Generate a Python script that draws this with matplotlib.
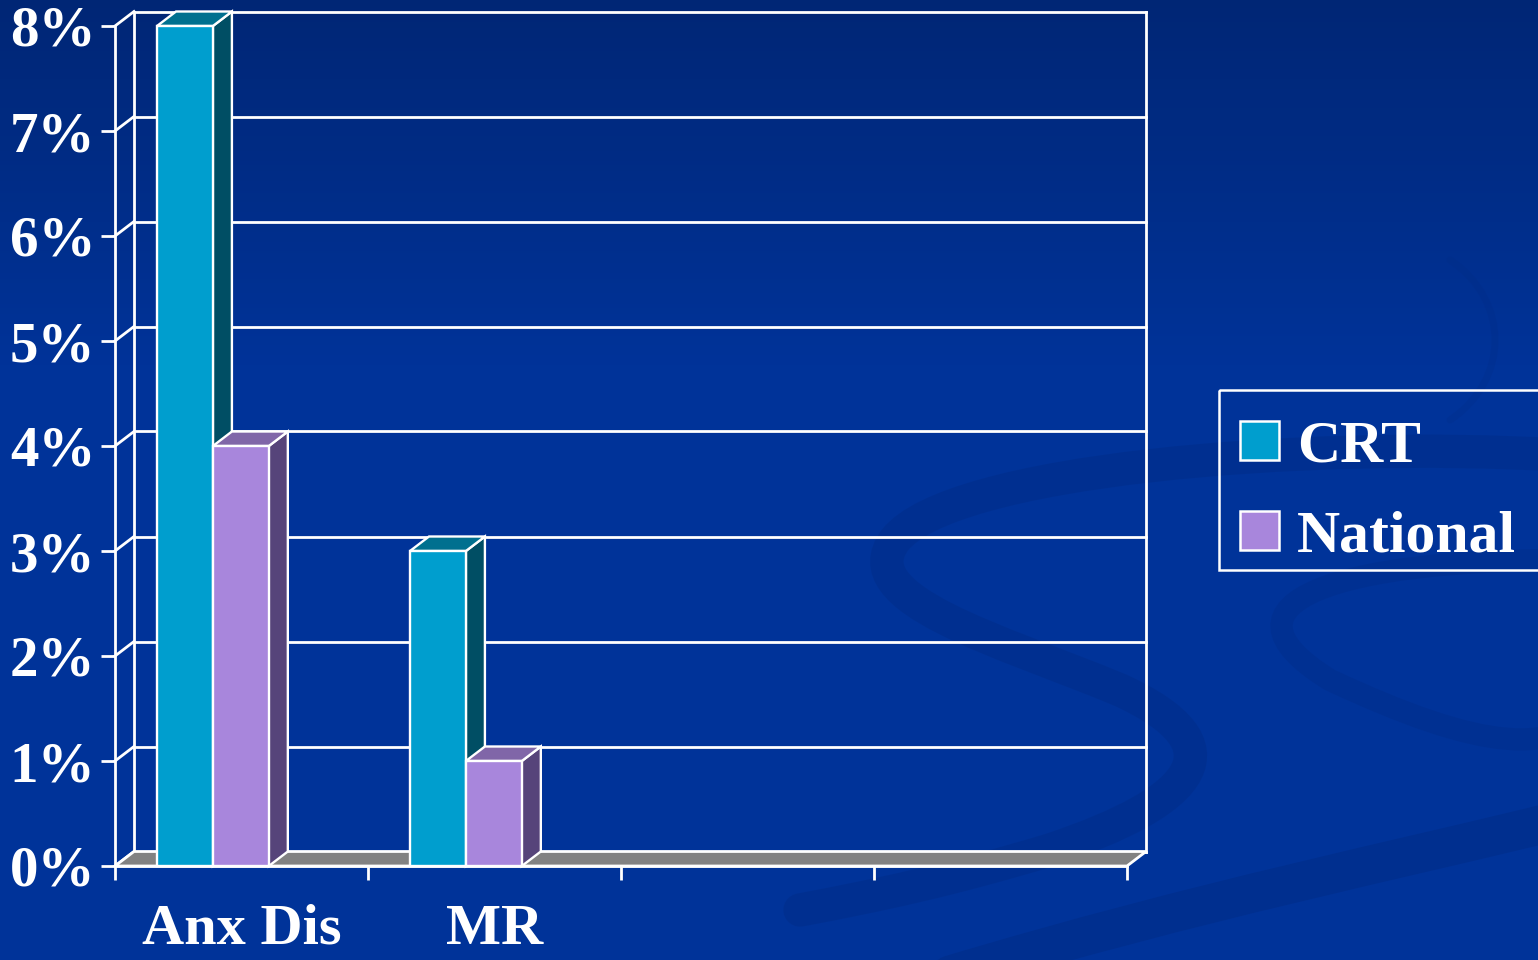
import numpy as np
import matplotlib
matplotlib.use("Agg")
import matplotlib.pyplot as plt
from matplotlib.patches import Polygon, Rectangle, PathPatch
from matplotlib.path import Path

# ---------------- data ----------------
categories = ["Anx Dis", "MR", "", ""]
series_names = ["CRT", "National"]
crt = [8, 3, np.nan, np.nan]
national = [4, 1, np.nan, np.nan]
yticks = [0, 1, 2, 3, 4, 5, 6, 7, 8]
ytick_labels = ["0%", "1%", "2%", "3%", "4%", "5%", "6%", "7%", "8%"]

# ---------------- style ----------------
W, H = 1538, 960
FONT = "Liberation Serif"
front_cols = ["#009ECE", "#A886DC"]
top_cols = ["#00708F", "#8066A8"]
side_cols = ["#004E64", "#56447A"]
floor_col = "#828282"
LW = 2.0

fig = plt.figure(figsize=(W / 100, H / 100), dpi=100)

# background gradient + decorative swirls (pixel coordinates)
bg = fig.add_axes([0, 0, 1, 1])
bg.set_xlim(0, W)
bg.set_ylim(H, 0)
bg.axis("off")
top = np.array([0.0, 0.15, 0.46])
mid = np.array([0.0, 0.20, 0.60])
t = np.clip(np.linspace(0, 1, H) / 0.38, 0, 1)[:, None]
grad = (top * (1 - t) + mid * t)[:, None, :]
bg.imshow(grad, extent=[0, W, H, 0], aspect="auto", zorder=0)

swirl_col = "#002a80"
def stroke(verts, codes, lw, alpha=0.35):
    bg.add_patch(PathPatch(Path(verts, codes), facecolor="none", edgecolor=swirl_col,
                           lw=lw, alpha=alpha, capstyle="round", zorder=1))

C = Path.CURVE4
stroke([(1560, 455), (1300, 440), (950, 470), (895, 540),
        (850, 600), (1000, 640), (1120, 690),
        (1240, 745), (1200, 800), (1050, 850),
        (950, 880), (880, 895), (800, 910)],
       [Path.MOVETO, C, C, C, C, C, C, C, C, C, C, C, C], lw=24)
stroke([(1560, 560), (1350, 560), (1200, 600), (1330, 680),
        (1480, 750), (1560, 760), (1600, 700)],
       [Path.MOVETO, C, C, C, C, C, C], lw=16, alpha=0.28)
stroke([(950, 975), (1200, 900), (1400, 860), (1560, 820)],
       [Path.MOVETO, C, C, C], lw=28, alpha=0.4)
stroke([(1450, 260), (1510, 300), (1510, 380), (1450, 420)],
       [Path.MOVETO, C, C, C], lw=5, alpha=0.2)

# ---------------- main chart axes ----------------
x0px, x1px, y0px, y1px = 115, 1127, 866, 26
ax = fig.add_axes([x0px / W, (H - y0px) / H, (x1px - x0px) / W, (y0px - y1px) / H])
ax.set_xlim(0, len(categories))
ax.set_ylim(0, 8)
ax.set_facecolor("none")
for s in ["top", "right"]:
    ax.spines[s].set_visible(False)
for s in ["left", "bottom"]:
    ax.spines[s].set_color("white")
    ax.spines[s].set_linewidth(LW)
    ax.spines[s].set_zorder(6)

n = len(categories)
ax.set_yticks(yticks)
ax.set_yticklabels(ytick_labels, fontsize=41, fontweight="bold", family=FONT, color="white")
ax.set_xticks(np.arange(n + 1))
ax.set_xticklabels([])
ax.set_xticks(np.arange(n) + 0.5, minor=True)
ax.set_xticklabels(categories, minor=True, fontsize=42, fontweight="bold", family=FONT, color="white")
ax.tick_params(axis="y", which="major", direction="out", length=10, width=LW, color="white", pad=4)
ax.tick_params(axis="x", which="major", direction="out", length=10, width=LW, color="white")
ax.tick_params(axis="x", which="minor", length=0, pad=27)

DX = 19 / 253.0   # depth offset in category units
DY = 14.5 / 105.0  # depth offset in percent units

line_kw = dict(color="white", lw=LW, clip_on=False, zorder=2, solid_capstyle="projecting")
# back wall gridlines and left wall connectors
for y in yticks:
    ax.plot([DX, n + DX], [y + DY, y + DY], **line_kw)
    ax.plot([0, DX], [y, y + DY], **line_kw)
ax.plot([DX, DX], [DY, 8 + DY], **line_kw)
ax.plot([n + DX, n + DX], [DY, 8 + DY], **line_kw)

# floor
ax.add_patch(Polygon([(0, 0), (n, 0), (n + DX, DY), (DX, DY)], closed=True,
                     facecolor=floor_col, edgecolor="white", lw=LW, clip_on=False, zorder=3))

# 3-D bars
bar_w = 0.221
offset = 0.166
for i in range(n):
    for j, vals in enumerate([crt, national]):
        v = vals[i]
        if np.isnan(v):
            continue
        a = i + offset + j * bar_w
        b = a + bar_w
        kw = dict(closed=True, edgecolor="white", lw=1.7, clip_on=False, zorder=4, joinstyle="miter")
        ax.add_patch(Polygon([(b, 0), (b + DX, DY), (b + DX, v + DY), (b, v)], facecolor=side_cols[j], **kw))
        ax.add_patch(Polygon([(a, v), (b, v), (b + DX, v + DY), (a + DX, v + DY)], facecolor=top_cols[j], **kw))
        ax.add_patch(Polygon([(a, 0), (b, 0), (b, v), (a, v)], facecolor=front_cols[j], **kw))

# ---------------- legend (figure pixel coords) ----------------
bg.add_patch(Rectangle((1219, 390), 340, 180, facecolor="none", edgecolor="white", lw=1.8, zorder=5))
for k, (name, yc) in enumerate(zip(series_names, [441, 531])):
    bg.add_patch(Rectangle((1240, yc - 20), 39, 39, facecolor=front_cols[k], edgecolor="white",
                           lw=1.8, zorder=5))
    bg.text(1297, yc + 6, name, fontsize=43, fontweight="bold", family=FONT, color="white",
            ha="left", va="center", zorder=6)

fig.savefig("out.png", dpi=100)
